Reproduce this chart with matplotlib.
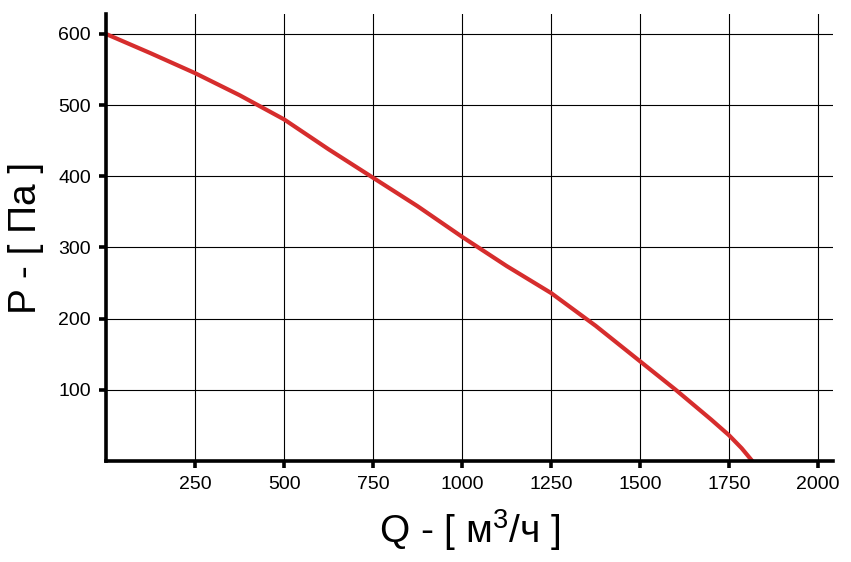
import matplotlib.pyplot as plt

# Характеристика вентилятора: расход Q [м3/ч] и давление P [Па]
q_values = [0, 125, 250, 375, 500, 625, 750, 875, 1000, 1125, 1250, 1375, 1500, 1600, 1700, 1750, 1785, 1815]
p_values = [600, 573, 545, 514, 480, 438, 398, 358, 315, 274, 236, 190, 140, 100, 58, 36, 18, 0]

x_ticks = [250, 500, 750, 1000, 1250, 1500, 1750, 2000]
y_ticks = [100, 200, 300, 400, 500, 600]

plt.rcParams['font.family'] = ['Liberation Sans', 'DejaVu Sans']
plt.rcParams['mathtext.fontset'] = 'custom'
plt.rcParams['mathtext.rm'] = 'Liberation Sans'

fig = plt.figure(figsize=(8.51, 5.62), dpi=100)
ax = fig.add_axes([0.1246, 0.1797, 0.8544, 0.7953])

ax.plot(q_values, p_values, color='#d62d2d', linewidth=3, solid_joinstyle='round', zorder=3)

ax.set_xlim(0, 2042)
ax.set_ylim(0, 628)
ax.set_xticks(x_ticks)
ax.set_yticks(y_ticks)
ax.grid(True, color='black', linewidth=0.8)

# Оси: только левая и нижняя, жирные
for side in ['top', 'right']:
    ax.spines[side].set_visible(False)
for side in ['left', 'bottom']:
    ax.spines[side].set_linewidth(2.6)
    ax.spines[side].set_zorder(4)
ax.tick_params(axis='both', direction='out', length=5, width=2.6, labelsize=14, pad=6)

ax.set_xlabel('Q - [ м$^3$/ч ]', fontsize=28, labelpad=10)
ax.set_ylabel('P - [ Па ]', fontsize=28, labelpad=10)

fig.savefig('out.png', dpi=100)
